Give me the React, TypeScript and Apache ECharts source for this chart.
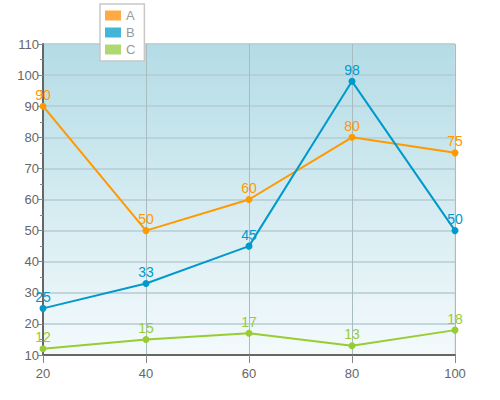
import React, { useRef, useEffect } from 'react';
import * as echarts from 'echarts';

const xValues = [20, 40, 60, 80, 100];
const seriesA = [90, 50, 60, 80, 75];
const seriesB = [25, 33, 45, 98, 50];
const seriesC = [12, 15, 17, 13, 18];
const seriesNames = ['A', 'B', 'C'];

const LINE_COLORS = ['#ff9900', '#0099cc', '#99cc33'];
const LEGEND_COLORS = ['#ffaa44', '#44b4d8', '#b0d870'];

const App: React.FC = () => {
  const chartRef = useRef<HTMLDivElement>(null);

  useEffect(() => {
    if (!chartRef.current) return;
    const chart = echarts.init(chartRef.current, undefined, { renderer: 'svg' });

    const makeSeries = (name: string, values: number[], i: number) => ({
      name,
      type: 'line',
      data: values.map((v, k) => [xValues[k], v]),
      symbol: 'circle',
      symbolSize: 7,
      lineStyle: { color: LINE_COLORS[i], width: 2 },
      itemStyle: { color: LINE_COLORS[i] },
      label: {
        show: true,
        position: 'top',
        distance: 1,
        color: LINE_COLORS[i],
        fontSize: 14,
        fontFamily: 'Liberation Sans, Arial, sans-serif',
      },
    });

    chart.setOption({
      animation: false,
      textStyle: { fontFamily: 'Liberation Sans, Arial, sans-serif' },
      legend: {
        orient: 'vertical',
        left: 100,
        top: 4,
        itemWidth: 16,
        itemHeight: 10,
        itemGap: 4,
        padding: [5, 9, 5, 5],
        backgroundColor: '#ffffff',
        borderColor: '#c8c8c8',
        borderWidth: 1.5,
        icon: 'rect',
        textStyle: { color: '#999999', fontSize: 13, lineHeight: 12 },
        data: seriesNames.map((n, i) => ({ name: n, itemStyle: { color: LEGEND_COLORS[i] } })),
      },
      grid: {
        left: 43,
        right: 45,
        top: 44,
        bottom: 45,
        show: true,
        borderColor: '#d0dde2',
        borderWidth: 1,
        backgroundColor: new echarts.graphic.LinearGradient(0, 0, 0, 1, [
          { offset: 0, color: '#b4dce6' },
          { offset: 1, color: '#f4fafc' },
        ]),
      },
      xAxis: {
        type: 'value',
        min: 20,
        max: 100,
        interval: 20,
        axisLine: { show: true, lineStyle: { color: '#666666', width: 2 } },
        axisTick: { show: true, length: 8, lineStyle: { color: '#888888' } },
        axisLabel: { color: '#666666', fontSize: 13, margin: 12 },
        splitLine: { show: true, lineStyle: { color: '#a9bcc2', width: 1 } },
      },
      yAxis: {
        type: 'value',
        min: 10,
        max: 110,
        interval: 10,
        axisLine: { show: true, lineStyle: { color: '#666666', width: 2 } },
        axisTick: { show: true, length: 5, lineStyle: { color: '#888888' } },
        minorTick: { show: true, splitNumber: 2, length: 3, lineStyle: { color: '#888888' } },
        axisLabel: { color: '#666666', fontSize: 13, margin: 4 },
        splitLine: { show: true, lineStyle: { color: '#b3ccd3', width: 1.5 } },
      },
      series: [
        makeSeries('A', seriesA, 0),
        makeSeries('B', seriesB, 1),
        makeSeries('C', seriesC, 2),
      ],
    });

    return () => { chart.dispose(); };
  }, []);

  return (
    <div
      ref={chartRef}
      style={{ width: 500, height: 400, position: 'absolute', left: 0, top: 0 }}
    />
  );
};

export default App;
